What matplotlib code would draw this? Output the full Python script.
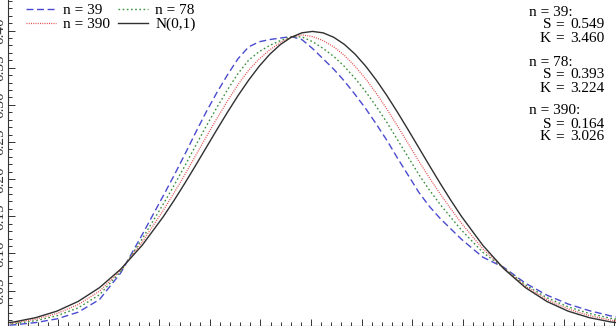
import matplotlib
matplotlib.use("Agg")
import matplotlib.pyplot as plt
from matplotlib.ticker import FixedLocator, NullFormatter, MultipleLocator
import numpy as np

plt.rcParams['font.family'] = ['Liberation Serif', 'DejaVu Serif']

x = [-3.0, -2.8, -2.6, -2.4, -2.2, -2.0, -1.8, -1.6,
     -1.4, -1.3, -1.2, -1.1, -1.0, -0.9, -0.8, -0.7, -0.6, -0.5, -0.4, -0.3, -0.2, -0.1,
     0.0, 0.1, 0.2, 0.3, 0.4, 0.5, 0.6, 0.7, 0.8, 0.9, 1.0, 1.1, 1.2, 1.3, 1.4,
     1.6, 1.8, 2.0, 2.2, 2.4, 2.6, 2.8, 3.0]

normal = [0.0044, 0.0079, 0.0136, 0.0224, 0.0355, 0.0540, 0.0790, 0.1109,
          0.1497, 0.1714, 0.1942, 0.2179, 0.2420, 0.2661, 0.2897, 0.3123, 0.3332, 0.3521, 0.3683, 0.3814, 0.3910, 0.3970,
          0.3989, 0.3970, 0.3910, 0.3814, 0.3683, 0.3521, 0.3332, 0.3123, 0.2897, 0.2661, 0.2420, 0.2179, 0.1942, 0.1714, 0.1497,
          0.1109, 0.0790, 0.0540, 0.0355, 0.0224, 0.0136, 0.0079, 0.0044]

n39 = [0.002, 0.004, 0.007, 0.012, 0.021, 0.038, 0.074, 0.125,
       0.178, 0.205, 0.233, 0.262, 0.290, 0.316, 0.340, 0.362, 0.378, 0.385, 0.388, 0.390, 0.392, 0.388,
       0.376, 0.362, 0.348, 0.332, 0.314, 0.295, 0.274, 0.252, 0.228, 0.205, 0.182, 0.163, 0.147, 0.133, 0.119,
       0.095, 0.081, 0.060, 0.044, 0.032, 0.023, 0.016, 0.011]

n78 = [0.0030, 0.0056, 0.0096, 0.0162, 0.0268, 0.0444, 0.0760, 0.1194,
       0.1667, 0.1916, 0.2175, 0.2444, 0.2708, 0.2960, 0.3199, 0.3421, 0.3601, 0.3718, 0.3801, 0.3866, 0.3916, 0.3916,
       0.3852, 0.3760, 0.3652, 0.3518, 0.3357, 0.3178, 0.2977, 0.2761, 0.2527, 0.2294, 0.2060, 0.1850, 0.1659, 0.1484, 0.1313,
       0.1014, 0.0802, 0.0576, 0.0406, 0.0282, 0.0192, 0.0128, 0.0084]

n390 = [0.0037, 0.0067, 0.0116, 0.0193, 0.0312, 0.0492, 0.0775, 0.1151,
        0.1582, 0.1815, 0.2058, 0.2311, 0.2564, 0.2811, 0.3048, 0.3272, 0.3466, 0.3619, 0.3742, 0.3840, 0.3913, 0.3943,
        0.3920, 0.3865, 0.3781, 0.3666, 0.3520, 0.3350, 0.3154, 0.2942, 0.2712, 0.2478, 0.2240, 0.2014, 0.1800, 0.1599, 0.1405,
        0.1061, 0.0796, 0.0558, 0.0381, 0.0253, 0.0164, 0.0103, 0.0064]

labels = ["n = 39", "n = 78", "n = 390", "N(0,1)"]
stats_n = ["39", "78", "390"]
stats_S = ["0.549", "0.393", "0.164"]
stats_K = ["3.460", "3.224", "3.026"]

W, H = 616, 326
fig = plt.figure(figsize=(W / 100, H / 100), dpi=100)
ax = fig.add_axes([8 / W, 0, 608 / W, 1])

l39, = ax.plot(x, n39, color='#4a4ad0', lw=1.0, dashes=(5, 2.6), label=labels[0])
l78, = ax.plot(x, n78, color='#3d913d', lw=1.0, dashes=(1.2, 1.8), label=labels[1])
l390, = ax.plot(x, n390, color='#e04848', lw=0.9, dashes=(0.8, 1.0), label=labels[2])
lN, = ax.plot(x, normal, color='#303030', lw=1.0, label=labels[3])

ax.set_xlim(-2.859, 2.850)
ax.set_ylim(0.0024, 0.4412)

ax.xaxis.set_major_locator(FixedLocator([-0.014 + 0.4745 * k for k in range(-6, 7)]))
ax.xaxis.set_minor_locator(FixedLocator([-0.014 + 0.0949 * k for k in range(-31, 32)]))
ax.xaxis.set_major_formatter(NullFormatter())
ax.yaxis.set_major_locator(MultipleLocator(0.05))
ax.yaxis.set_minor_locator(MultipleLocator(0.01))
ax.tick_params(axis='both', which='both', direction='in', width=0.7, colors='#333333')
ax.tick_params(axis='both', which='major', length=5)
ax.tick_params(axis='both', which='minor', length=2.8)
ax.tick_params(axis='y', which='major', labelrotation=90, pad=1, labelsize=11)
for lab in ax.get_yticklabels():
    lab.set_verticalalignment('center')
ax.spines['top'].set_visible(False)
ax.spines['right'].set_visible(False)
for s in ('left', 'bottom'):
    ax.spines[s].set_linewidth(0.8)
    ax.spines[s].set_color('#333333')

leg = ax.legend(handles=[l39, l390, l78, lN], ncol=2, loc='upper left',
                bbox_to_anchor=(17 / 608, 1 - 3 / H), frameon=False, fontsize=11,
                handlelength=2.0, handletextpad=0.45, labelspacing=0.0,
                columnspacing=0.5, borderaxespad=0.0, borderpad=0.05)

fs = 11
y0 = [12, 62, 111]
for i in range(3):
    yy = 1 - y0[i] / H
    fig.text(529 / W, yy, f"n = {stats_n[i]}:", fontsize=fs, ha='left', va='center')
    fig.text(551 / W, 1 - (y0[i] + 13) / H, "S", fontsize=fs, ha='right', va='center')
    fig.text(560 / W, 1 - (y0[i] + 13) / H, "=", fontsize=fs, ha='center', va='center')
    fig.text(570 / W, 1 - (y0[i] + 13) / H, stats_S[i], fontsize=fs, ha='left', va='center')
    fig.text(551 / W, 1 - (y0[i] + 26) / H, "K", fontsize=fs, ha='right', va='center')
    fig.text(560 / W, 1 - (y0[i] + 26) / H, "=", fontsize=fs, ha='center', va='center')
    fig.text(570 / W, 1 - (y0[i] + 26) / H, stats_K[i], fontsize=fs, ha='left', va='center')

fig.savefig("out.png", dpi=100)
